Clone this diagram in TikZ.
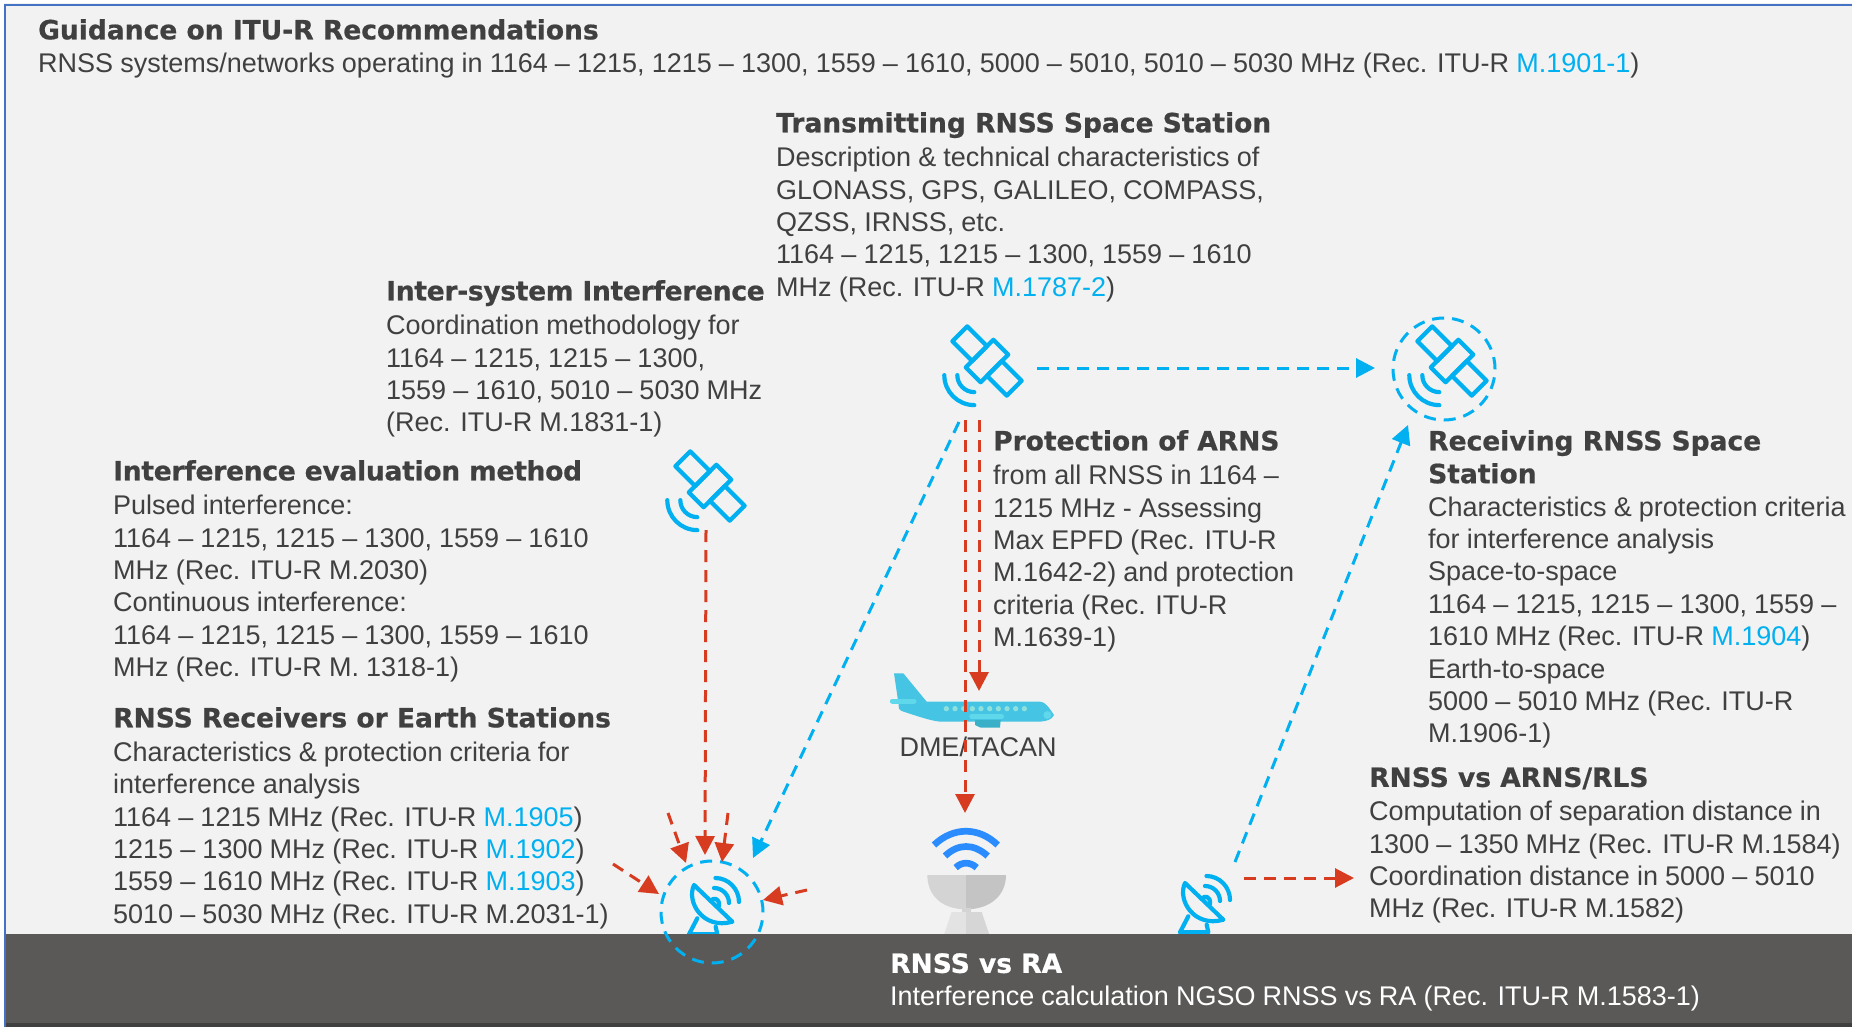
\documentclass[tikz,border=0pt]{standalone}
\usepackage{fontspec}
\setmainfont[WordSpace=0.95]{Liberation Sans}
\newfontfamily\headfont[BoldFeatures={FakeBold=0.7}]{DejaVu Sans}
\definecolor{ituBlue}{RGB}{0,176,240}
\definecolor{ituRed}{RGB}{216,60,32}
\definecolor{ituText}{RGB}{64,64,64}
\definecolor{ituBand}{RGB}{90,89,88}
\definecolor{ituPaper}{RGB}{242,242,242}
\definecolor{ituEdge}{RGB}{68,114,196}
\definecolor{planeBody}{RGB}{69,196,228}
\definecolor{planeLight}{RGB}{95,216,236}
\definecolor{planeDot}{RGB}{142,224,221}
\definecolor{planeBelly}{RGB}{58,176,200}
\definecolor{wifiBlue}{RGB}{42,140,255}
\usetikzlibrary{arrows.meta,positioning}
\newcommand{\hd}[2][0]{{\headfont\bfseries\fontsize{26.5}{32.4}\selectfont\addfontfeature{LetterSpace=#1}#2}}
\newcommand{\lnk}[1]{\textcolor{ituBlue}{#1}}
\tikzset{
  icon/.style={ituBlue, line width=4.2pt, line join=round, line cap=round},
  satIcon/.pic={
    \begin{scope}[icon, rotate=-45]
      \draw (-10.5,-19.5) rectangle (10.5,19.5);
      \draw (-38.5,-10.5) rectangle (-10.5,10.5);
      \draw (10.5,-10.5) rectangle (38.5,10.5);
      \draw (-20.2,40.2) .. controls (-8.5,51.9) and (10.5,51.9) .. (22.2,40.2);
      \draw (-11,31) .. controls (-4.4,37.6) and (6.4,37.6) .. (13,31);
    \end{scope}
  },
  dishIcon/.pic={
    \begin{scope}[icon]
      \draw (5,-50) .. controls (-3,-33) and (14,-5) .. (43.3,-13.3) -- cycle;
      \draw (21.7,-34) .. controls (24,-38) and (31,-37) .. (30,-29);
      \draw (25,-47) .. controls (33.3,-47) and (40,-40.3) .. (40,-32);
      \draw (26.5,-57) .. controls (39.5,-57) and (50,-46) .. (50,-33);
      \draw (8.3,-16.7) -- (0,-0.7) -- (28.3,-0.7) -- (26.7,-8.3);
    \end{scope}
  },
  planeIcon/.pic={
    \begin{scope}[scale=1/3]
      \fill[planeBody] (102,70) -- (130,70) -- (200,155) -- (540,155)
        .. controls (555,155) and (565,170) .. (582,195)
        .. controls (575,210) and (560,213) .. (540,215) -- (245,215)
        .. controls (225,215) and (190,205) .. (125,183)
        .. controls (115,178) and (115,170) .. (116,165) -- cycle;
      \fill[planeBelly] (345,210) -- (422,210) -- (420,233) -- (362,233) -- (345,225) -- cycle;
      \draw[planeLight, line width=4.7pt, line cap=round] (335,199) -- (425,199);
      \draw[planeLight, line width=5pt, line cap=round] (97,153) -- (162,153);
      \fill[planeLight] (562,195) circle[radius=12];
      \foreach \px in {259,285,...,493}
        \fill[planeDot] (\px,176) circle[radius=8];
    \end{scope}
  },
  wifiDish/.pic={
    \begin{scope}[scale=1/3]
      \draw[wifiBlue, line width=6.7pt] (1002,195) .. controls (1060,140) and (1136,140) .. (1193,195);
      \draw[wifiBlue, line width=6.7pt] (1035,228) .. controls (1075,190) and (1121,190) .. (1163,228);
      \draw[wifiBlue, line width=6.7pt] (1067,263) .. controls (1085,245) and (1111,245) .. (1130,263);
      \fill[black!17] (982,285) -- (1098,285) -- (1098,388) .. controls (1030,388) and (982,350) .. cycle;
      \fill[black!23] (1218,285) -- (1098,285) -- (1098,388) .. controls (1166,388) and (1218,350) .. cycle;
      \fill[black!17] (1086,385) rectangle (1112,397);
      \fill[black!11] (1055,396) -- (1098,396) -- (1098,470) -- (1030,470) -- cycle;
      \fill[black!16] (1145,396) -- (1098,396) -- (1098,470) -- (1170,470) -- cycle;
    \end{scope}
  }
}
\begin{document}
\begin{tikzpicture}[x=1pt, y=-1pt,
  txt/.style={anchor=north west, inner sep=0pt, align=left, text=ituText,
              font=\fontsize{27}{32.4}\selectfont},
  ring/.style={draw=ituBlue, circle, line width=3pt, dash pattern=on 12pt off 8pt,
               minimum size=102pt, inner sep=0pt},
  blueline/.style={ituBlue, line width=3pt, dash pattern=on 12pt off 8pt,
                   -{Triangle[length=19pt, width=19pt]}},
  redline/.style={ituRed, line width=3pt, dash pattern=on 12pt off 8pt,
                  -{Triangle[length=19pt, width=19pt]}}
]
  \useasboundingbox (0,0) rectangle (1852,1027);
  \fill[white] (0,0) rectangle (1852,1027);
  \fill[ituPaper] (4,3) rectangle (1852,1027);
  \draw[ituEdge, line width=2pt] (5,1027) -- (5,5) -- (1852,5);

  % icons
  \coordinate (satTx) at (987,361);
  \coordinate (satLeft) at (710,486);
  \coordinate (satRx) at (1452,361);
  \coordinate (antGnd) at (689,935);
  \coordinate (antEarth) at (1180,933);
  \coordinate (planeRef) at (860,650);
  \coordinate (wifiRef) at (600,780);
  \pic at (satTx) {satIcon};
  \pic at (satLeft) {satIcon};
  \pic at (satRx) {satIcon};
  \pic at (antGnd) {dishIcon};
  \pic at (antEarth) {dishIcon};
  \pic at (planeRef) {planeIcon};
  \pic at (wifiRef) {wifiDish};

  % band
  \fill[ituBand] (6,933.5) rectangle (1852,1023);
  \fill[ituText] (6,1023) rectangle (1852,1027);

  \node[ring] (ringRx) at (1444,369) {};
  \node[ring] (ringGnd) at (712,912) {};

  % texts
  \node[txt] (guide) at (38,19) {\hd{Guidance on ITU-R Recommendations}\\[1pt]
    RNSS systems/networks operating in 1164 -- 1215, 1215 -- 1300, 1559 -- 1610, 5000 -- 5010, 5010 -- 5030 MHz (Rec. ITU-R \lnk{M.1901-1})};
  \node[txt] (txText) at (776,112) {\hd{Transmitting RNSS Space Station}\\[2pt]
    Description \& technical characteristics of\\
    GLONASS, GPS, GALILEO, COMPASS,\\
    QZSS, IRNSS, etc.\\
    1164 -- 1215, 1215 -- 1300, 1559 -- 1610\\
    MHz (Rec. ITU-R \lnk{M.1787-2})};
  \node[txt] (interText) at (386,280) {\hd[-1.1]{Inter-system Interference}\\[2pt]
    Coordination methodology for\\
    1164 -- 1215, 1215 -- 1300,\\
    1559 -- 1610, 5010 -- 5030 MHz\\
    (Rec. ITU-R M.1831-1)};
  \node[txt] (evalText) at (113,460) {\hd[-1]{Interference evaluation method}\\[2pt]
    Pulsed interference:\\
    1164 -- 1215, 1215 -- 1300, 1559 -- 1610\\
    MHz (Rec. ITU-R M.2030)\\
    Continuous interference:\\
    1164 -- 1215, 1215 -- 1300, 1559 -- 1610\\
    MHz (Rec. ITU-R M. 1318-1)};
  \node[txt] (recvText) at (113,707) {\hd{RNSS Receivers or Earth Stations}\\[1.5pt]
    Characteristics \& protection criteria for\\
    interference analysis\\
    1164 -- 1215 MHz (Rec. ITU-R \lnk{M.1905})\\
    1215 -- 1300 MHz (Rec. ITU-R \lnk{M.1902})\\
    1559 -- 1610 MHz (Rec. ITU-R \lnk{M.1903})\\
    5010 -- 5030 MHz (Rec. ITU-R M.2031-1)};
  \node[txt] (arnsText) at (993,430) {\hd{Protection of ARNS}\\[2pt]
    from all RNSS in 1164 --\\
    1215 MHz - Assessing\\
    Max EPFD (Rec. ITU-R\\
    M.1642-2) and protection\\
    criteria (Rec. ITU-R\\
    M.1639-1)};
  \node[txt] (rxText) at (1428,430) {\hd{Receiving RNSS Space}\\[0.5pt]
    \hd{Station}\\[0.5pt]
    Characteristics \& protection criteria\\
    for interference analysis\\
    Space-to-space\\
    1164 -- 1215, 1215 -- 1300, 1559 --\\
    1610 MHz (Rec. ITU-R \lnk{M.1904})\\
    Earth-to-space\\
    5000 -- 5010 MHz (Rec. ITU-R\\
    M.1906-1)};
  \node[txt] (rlsText) at (1369,767) {\hd{RNSS vs ARNS/RLS}\\[1.5pt]
    Computation of separation distance in\\
    1300 -- 1350 MHz (Rec. ITU-R M.1584)\\
    Coordination distance in 5000 -- 5010\\
    MHz (Rec. ITU-R M.1582)};
  \node[txt, text=white] (raText) at (890,953) {\hd{RNSS vs RA}\\[0.5pt]
    Interference calculation NGSO RNSS vs RA (Rec. ITU-R M.1583-1)};
  \node[txt, anchor=center] (dmeText) at (978,747) {DME/TACAN};

  % links
  \draw[blueline] ([shift={(50,7)}]satTx) -- ([shift={(-69,-1)}]ringRx.center);
  \draw[blueline] ([shift={(-28,61)}]satTx) -- ([shift={(41,-54)}]ringGnd.center);
  \draw[blueline] ([shift={(55,-71)}]antEarth) -- ([shift={(-36,56)}]ringRx.center);
  \draw[redline] ([shift={(-22,59)}]satTx) -- ([shift={(-22,452)}]satTx);
  \draw[redline] ([shift={(-8,59)}]satTx) -- ([shift={(-8,330)}]satTx);
  \draw[redline] ([shift={(-4,44)}]satLeft) -- ([shift={(-7,-57)}]ringGnd.center);
  \draw[redline] ([shift={(-44,-99)}]ringGnd.center) -- ([shift={(-26,-49)}]ringGnd.center);
  \draw[redline] ([shift={(16,-99)}]ringGnd.center) -- ([shift={(10,-50)}]ringGnd.center);
  \draw[redline] ([shift={(-99,-48)}]ringGnd.center) -- ([shift={(-53,-18)}]ringGnd.center);
  \draw[redline] ([shift={(95,-22)}]ringGnd.center) -- ([shift={(51,-12)}]ringGnd.center);
  \draw[redline] ([shift={(64,-55)}]antEarth) -- ([shift={(174,-55)}]antEarth);
\end{tikzpicture}
\end{document}
